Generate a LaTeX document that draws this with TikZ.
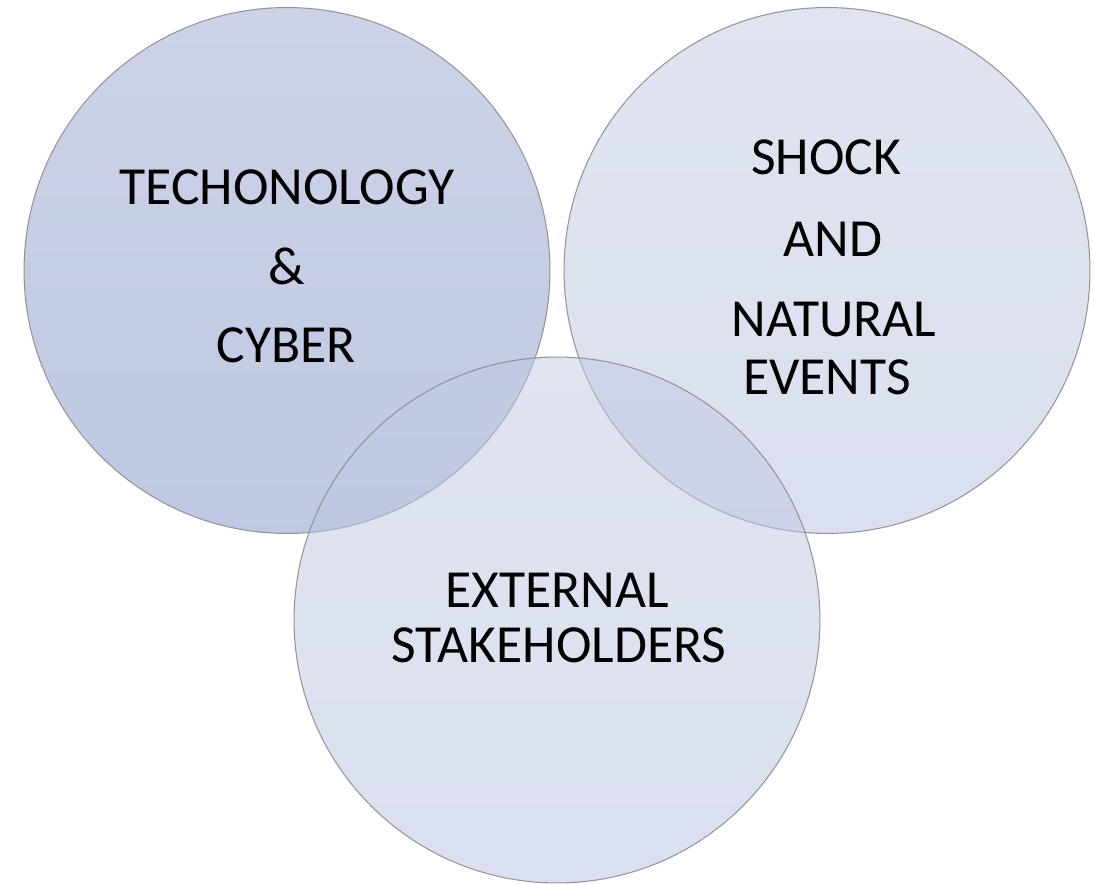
\documentclass[tikz,border=0pt]{standalone}
\usepackage{fontspec}
\setmainfont{Carlito}
\usepackage{tikz}

\definecolor{techtop}{RGB}{155,167,207}
\definecolor{techbot}{RGB}{128,146,200}
\definecolor{paletop}{RGB}{193,201,227}
\definecolor{palebot}{RGB}{183,193,225}

\tikzset{
  venn/.style={circle, draw=gray!90, line width=0.6pt, minimum size=10.52cm,
    inner sep=0pt, fill opacity=0.5, draw opacity=0.9},
  word/.style={anchor=base, font=\fontsize{30.5}{36}\selectfont, text=black}
}

\begin{document}
\begin{tikzpicture}[x=0.02cm, y=-0.02cm]
        \useasboundingbox (0, 0) rectangle (1094, 884);

        % Draw circles
        \node[venn, top color=techtop, bottom color=techbot] (tech) at (287, 270.5) {};
        \node[venn, top color=paletop, bottom color=palebot] (shock) at (827, 270.5) {};
        \node[venn, top color=paletop, bottom color=palebot] (ext) at (557, 620) {};

        % Draw labels
        \node[word] (tech1) at (287, 205) {TECHONOLOGY};
        \node[word] (tech2) at (287, 285) {\&};
        \node[word] (tech3) at (286, 363) {CYBER};

        \node[word] (shock1) at (826, 175) {SHOCK};
        \node[word] (shock2) at (833, 257) {AND};
        \node[word] (shock3) at (834, 337) {NATURAL};
        \node[word] (shock4) at (827, 395) {EVENTS};

        \node[word] (ext1) at (557, 607) {EXTERNAL};
        \node[word] (ext2) at (559, 662) {STAKEHOLDERS};
      \end{tikzpicture}
\end{document}
